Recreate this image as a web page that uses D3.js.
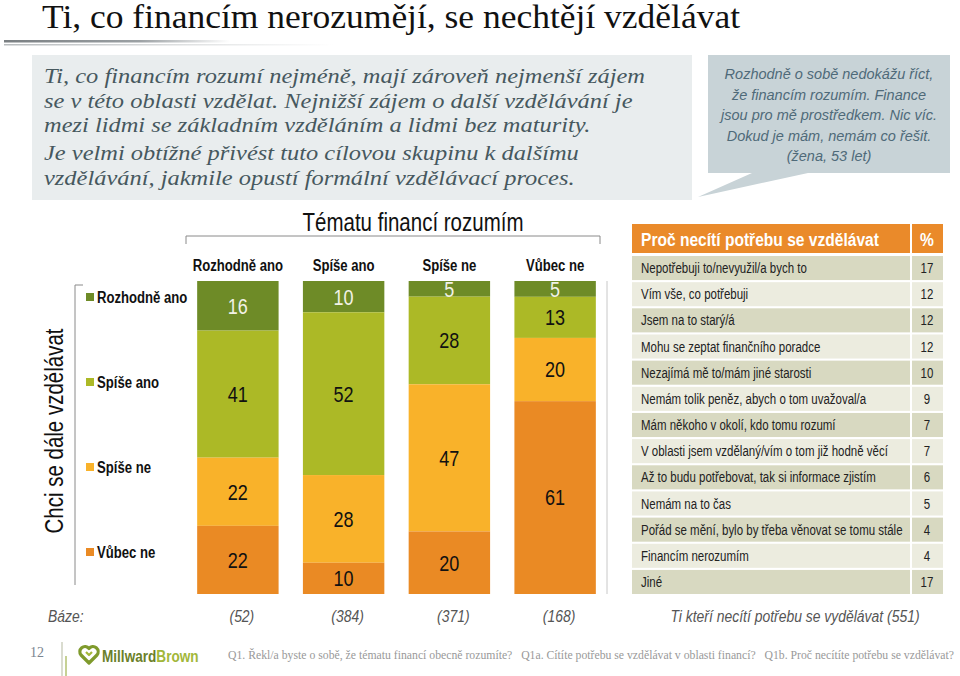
<!DOCTYPE html>
<html><head><meta charset="utf-8">
<script src="https://cdn.jsdelivr.net/npm/d3@7"></script>
<style>
html,body{margin:0;padding:0;background:#fff;}
svg{display:block;}
</style></head>
<body>
<svg id="c" width="960" height="676"></svg>
<script>
// ---------- DATA ----------
const title = "Ti, co financím nerozumějí, se nechtějí vzdělávat";
const introLines = [
  "Ti, co financím rozumí nejméně, mají zároveň nejmenší zájem",
  "se v této oblasti vzdělat. Nejnižší zájem o další vzdělávání je",
  "mezi lidmi se základním vzděláním a lidmi bez maturity.",
  "Je velmi obtížné přivést tuto cílovou skupinu k dalšímu",
  "vzdělávání, jakmile opustí formální vzdělávací proces."
];
const quoteLines = [
  "Rozhodně o sobě nedokážu říct,",
  "že financím rozumím. Finance",
  "jsou pro mě prostředkem. Nic víc.",
  "Dokud je mám, nemám co řešit.",
  "(žena, 53 let)"
];
const chartTitle = "Tématu financí rozumím";
const yTitle = "Chci se dále vzdělávat";
const categories = ["Rozhodně ano", "Spíše ano", "Spíše ne", "Vůbec ne"];
const seriesNames = ["Rozhodně ano", "Spíše ano", "Spíše ne", "Vůbec ne"];
const rozhodneAno = [16, 10, 5, 5];
const spiseAno    = [41, 52, 28, 13];
const spiseNe     = [22, 28, 47, 20];
const vubecNe     = [22, 10, 20, 61];
const bases = [52, 384, 371, 168];
const baseLabel = "Báze:";
const tableHeader = "Proč necítí potřebu se vzdělávat";
const reasons = [
  "Nepotřebuji to/nevyužil/a bych to",
  "Vím vše, co potřebuji",
  "Jsem na to starý/á",
  "Mohu se zeptat finančního poradce",
  "Nezajímá mě to/mám jiné starosti",
  "Nemám tolik peněz, abych o tom uvažoval/a",
  "Mám někoho v okolí, kdo tomu rozumí",
  "V oblasti jsem vzdělaný/vím o tom již hodně věcí",
  "Až to budu potřebovat, tak si informace zjistím",
  "Nemám na to čas",
  "Pořád se mění, bylo by třeba věnovat se tomu stále",
  "Financím nerozumím",
  "Jiné"
];
const reasonPct = [17, 12, 12, 12, 10, 9, 7, 7, 6, 5, 4, 4, 17];
const tableBase = "Ti kteří necítí potřebu se vydělávat (551)";
const pageNo = "12";
const footnote = "Q1. Řekl/a byste o sobě, že tématu financí obecně rozumíte?   Q1a. Cítíte potřebu se vzdělávat v oblasti financí?   Q1b. Proč necítíte potřebu se vzdělávat?";

// ---------- STYLE ----------
const SANS = "'Liberation Sans',Arial,sans-serif";
const SERIF = "'Liberation Serif','Times New Roman',serif";
const colors = ["#6e8b27", "#acb926", "#f9b22a", "#ea8a24"];
const labelColors = ["#f2f2e6", "#111", "#111", "#111"];
const NF = 0.82; // horizontal compression to imitate a narrow face

// place text at its x/y through a transform and squeeze it horizontally
function condense(sel, f) {
  sel.each(function () {
    const t = d3.select(this);
    const x = +t.attr("x") || 0, y = +t.attr("y") || 0;
    const prev = t.attr("transform") || "";
    t.attr("x", 0).attr("y", 0)
     .attr("transform", `${prev} translate(${x},${y}) scale(${f},1)`);
  });
  return sel;
}

const svg = d3.select("#c");

// ---------- TITLE ----------
svg.append("text").attr("x", 42).attr("y", 28)
  .attr("font-family", SERIF)
  .attr("font-size", 33).attr("fill", "#111")
  .attr("textLength", 698).attr("lengthAdjust", "spacingAndGlyphs")
  .text(title);

const defs = svg.append("defs");
const g1 = defs.append("linearGradient").attr("id", "ul1");
g1.append("stop").attr("offset", "0%").attr("stop-color", "#7a7f82");
g1.append("stop").attr("offset", "60%").attr("stop-color", "#9ca1a4");
g1.append("stop").attr("offset", "100%").attr("stop-color", "#fff");
const g2 = defs.append("linearGradient").attr("id", "ul2");
g2.append("stop").attr("offset", "0%").attr("stop-color", "#b8bcbe");
g2.append("stop").attr("offset", "100%").attr("stop-color", "#fff");
svg.append("rect").attr("x", 4).attr("y", 40).attr("width", 226).attr("height", 2.5).attr("fill", "url(#ul1)");
svg.append("rect").attr("x", 4).attr("y", 44).attr("width", 330).attr("height", 1.5).attr("fill", "url(#ul2)");

// ---------- INTRO BOX ----------
svg.append("rect").attr("x", 32).attr("y", 55).attr("width", 660).attr("height", 145).attr("fill", "#e9edee");
const introY = [83, 108, 132, 160, 185];
const intro = svg.append("g").selectAll("text").data(introLines).join("text")
  .attr("x", 44).attr("y", (d, i) => introY[i])
  .attr("font-family", SERIF).attr("font-style", "italic").attr("font-size", 22)
  .attr("fill", "#46585e").text(d => d);
const introF = 601 / intro.nodes()[0].getComputedTextLength();
condense(intro, introF);

// ---------- CALLOUT ----------
svg.append("path")
  .attr("d", "M708,55 H950 V173 H808 L698,197 L752,173 H708 Z")
  .attr("fill", "#c8d3d7");
svg.append("g").selectAll("text").data(quoteLines).join("text")
  .attr("x", 829).attr("y", (d, i) => 79 + i * 20.5)
  .attr("text-anchor", "middle")
  .attr("font-family", SANS).attr("font-style", "italic").attr("font-size", 14.5)
  .attr("fill", "#4f6a79").text(d => d);

// ---------- STACKED BARS ----------
const rows = categories.map((c, i) => ({
  cat: c,
  [seriesNames[0]]: rozhodneAno[i],
  [seriesNames[1]]: spiseAno[i],
  [seriesNames[2]]: spiseNe[i],
  [seriesNames[3]]: vubecNe[i]
}));
const stack = d3.stack().keys(seriesNames).offset(d3.stackOffsetExpand);
const layers = stack(rows);

const x = d3.scaleBand().domain(categories).range([185, 608]).paddingInner(0.23).paddingOuter(0.115);
const y = d3.scaleLinear().domain([0, 1]).range([281, 594]);

// chart title + bracket
condense(svg.append("text").attr("x", 413).attr("y", 231).attr("text-anchor", "middle")
  .attr("font-family", SANS).attr("font-size", 25).attr("fill", "#111").text(chartTitle), NF);
svg.append("path").attr("d", "M186,244 V236 H600 V244").attr("fill", "none")
  .attr("stroke", "#8a8a8a").attr("stroke-width", 1);

// column headers
condense(svg.append("g").selectAll("text").data(categories).join("text")
  .attr("x", d => x(d) + x.bandwidth() / 2).attr("y", 271)
  .attr("text-anchor", "middle").attr("font-family", SANS).attr("font-weight", "bold")
  .attr("font-size", 16).attr("fill", "#111").text(d => d), NF);

const lg = svg.append("g").selectAll("g").data(layers).join("g")
  .attr("fill", (d, i) => colors[i]);
lg.selectAll("rect").data(d => d).join("rect")
  .attr("x", d => x(d.data.cat)).attr("width", x.bandwidth())
  .attr("y", d => y(d[0])).attr("height", d => y(d[1]) - y(d[0]));

const labG = svg.append("g");
layers.forEach((layer, li) => {
  condense(labG.selectAll(null).data(layer).join("text")
    .attr("x", d => x(d.data.cat) + x.bandwidth() / 2)
    .attr("y", d => (y(d[0]) + y(d[1])) / 2)
    .attr("dy", "0.36em")
    .attr("text-anchor", "middle").attr("font-family", SANS).attr("font-size", 22)
    .attr("fill", labelColors[li])
    .text(d => d.data[layer.key]), NF);
});

// right separator line
svg.append("line").attr("x1", 607).attr("x2", 607).attr("y1", 281).attr("y2", 594)
  .attr("stroke", "#c8c8c8").attr("stroke-width", 1);

// legend with bracket
svg.append("path").attr("d", "M83,285 H75 V585").attr("fill", "none")
  .attr("stroke", "#8a8a8a").attr("stroke-width", 1);
const legY = [297, 382, 467, 552];
const leg = svg.append("g").selectAll("g").data(seriesNames).join("g")
  .attr("transform", (d, i) => `translate(86,${legY[i]})`);
leg.append("rect").attr("x", 0).attr("y", -4).attr("width", 8).attr("height", 8)
  .attr("fill", (d, i) => colors[i]);
condense(leg.append("text").attr("x", 11).attr("y", 0).attr("dy", "0.36em")
  .attr("font-family", SANS).attr("font-weight", "bold").attr("font-size", 16)
  .attr("fill", "#111").text(d => d), NF);

// y title
condense(svg.append("text").attr("transform", "translate(63,431) rotate(-90)")
  .attr("text-anchor", "middle").attr("font-family", SANS).attr("font-size", 25)
  .attr("fill", "#111").text(yTitle), NF);

// bases
condense(svg.append("text").attr("x", 48).attr("y", 622).attr("font-family", SANS)
  .attr("font-style", "italic").attr("font-size", 17).attr("fill", "#555").text(baseLabel), NF);
condense(svg.append("g").selectAll("text").data(bases).join("text")
  .attr("x", (d, i) => x(categories[i]) + x.bandwidth() / 2 + 4).attr("y", 622)
  .attr("text-anchor", "middle").attr("font-family", SANS).attr("font-style", "italic")
  .attr("font-size", 17).attr("fill", "#555").text(d => `(${d})`), NF);

// ---------- TABLE ----------
const tx0 = 632, tx1 = 910, tp0 = 912, tp1 = 943;
svg.append("rect").attr("x", tx0).attr("y", 224).attr("width", tx1 - tx0).attr("height", 29).attr("fill", "#ea8a2a");
svg.append("rect").attr("x", tp0).attr("y", 224).attr("width", tp1 - tp0).attr("height", 29).attr("fill", "#ea8a2a");
condense(svg.append("text").attr("x", 641).attr("y", 246).attr("font-family", SANS).attr("font-weight", "bold")
  .attr("font-size", 19).attr("fill", "#fff").text(tableHeader), NF);
condense(svg.append("text").attr("x", 927).attr("y", 246).attr("text-anchor", "middle").attr("font-family", SANS)
  .attr("font-weight", "bold").attr("font-size", 19).attr("fill", "#fff").text("%"), NF);

const rowY = d3.scaleBand().domain(d3.range(reasons.length)).range([256, 594]).paddingInner(0.08);
const tr = svg.append("g").selectAll("g").data(reasons).join("g")
  .attr("transform", (d, i) => `translate(0,${rowY(i)})`);
tr.append("rect").attr("x", tx0).attr("width", tx1 - tx0).attr("height", rowY.bandwidth())
  .attr("fill", (d, i) => i % 2 === 0 ? "#d8d9c1" : "#ececdf");
tr.append("rect").attr("x", tp0).attr("width", tp1 - tp0).attr("height", rowY.bandwidth())
  .attr("fill", (d, i) => i % 2 === 0 ? "#d8d9c1" : "#ececdf");
condense(tr.append("text").attr("x", 641).attr("y", rowY.bandwidth() / 2).attr("dy", "0.36em")
  .attr("font-family", SANS).attr("font-size", 14).attr("fill", "#222").text(d => d), NF);
condense(tr.append("text").attr("x", 927).attr("y", rowY.bandwidth() / 2).attr("dy", "0.36em")
  .attr("text-anchor", "middle").attr("font-family", SANS).attr("font-size", 14)
  .attr("fill", "#222").text((d, i) => reasonPct[i]), NF);

condense(svg.append("text").attr("x", 795).attr("y", 622).attr("text-anchor", "middle")
  .attr("font-family", SANS).attr("font-style", "italic").attr("font-size", 17)
  .attr("fill", "#555").text(tableBase), NF);

// ---------- FOOTER ----------
svg.append("text").attr("x", 37).attr("y", 657).attr("text-anchor", "middle")
  .attr("font-family", SERIF).attr("font-size", 14).attr("fill", "#7a8590").text(pageNo);
svg.append("line").attr("x1", 62).attr("x2", 62).attr("y1", 642).attr("y2", 676).attr("stroke", "#b5b9a0").attr("stroke-width", 1);
svg.append("line").attr("x1", 66).attr("x2", 66).attr("y1", 656).attr("y2", 676).attr("stroke", "#8da32a").attr("stroke-width", 1);
// logo heart
svg.append("path")
  .attr("d", "M89,663 L81,655 A4.5,4.5 0 0 1 89,648.5 A4.5,4.5 0 0 1 97,655 Z")
  .attr("fill", "none").attr("stroke", "#7f9a2c").attr("stroke-width", 3.2).attr("stroke-linejoin", "round");
svg.append("path")
  .attr("d", "M86,652 L89,655 L92,652")
  .attr("fill", "none").attr("stroke", "#a5b83a").attr("stroke-width", 2.2).attr("stroke-linejoin", "round");
const logo = svg.append("text").attr("x", 102).attr("y", 662)
  .attr("font-family", SANS).attr("font-weight", "bold").attr("font-size", 17);
logo.append("tspan").attr("fill", "#6b7f2a").text("Millward");
logo.append("tspan").attr("fill", "#a2b73a").text("Brown");
condense(logo, 0.8);
svg.append("text").attr("x", 228).attr("y", 659)
  .attr("font-family", SERIF).attr("font-size", 11.5).attr("fill", "#999")
  .attr("textLength", 726).attr("lengthAdjust", "spacingAndGlyphs")
  .attr("xml:space", "preserve").text(footnote);
</script>
</body></html>
